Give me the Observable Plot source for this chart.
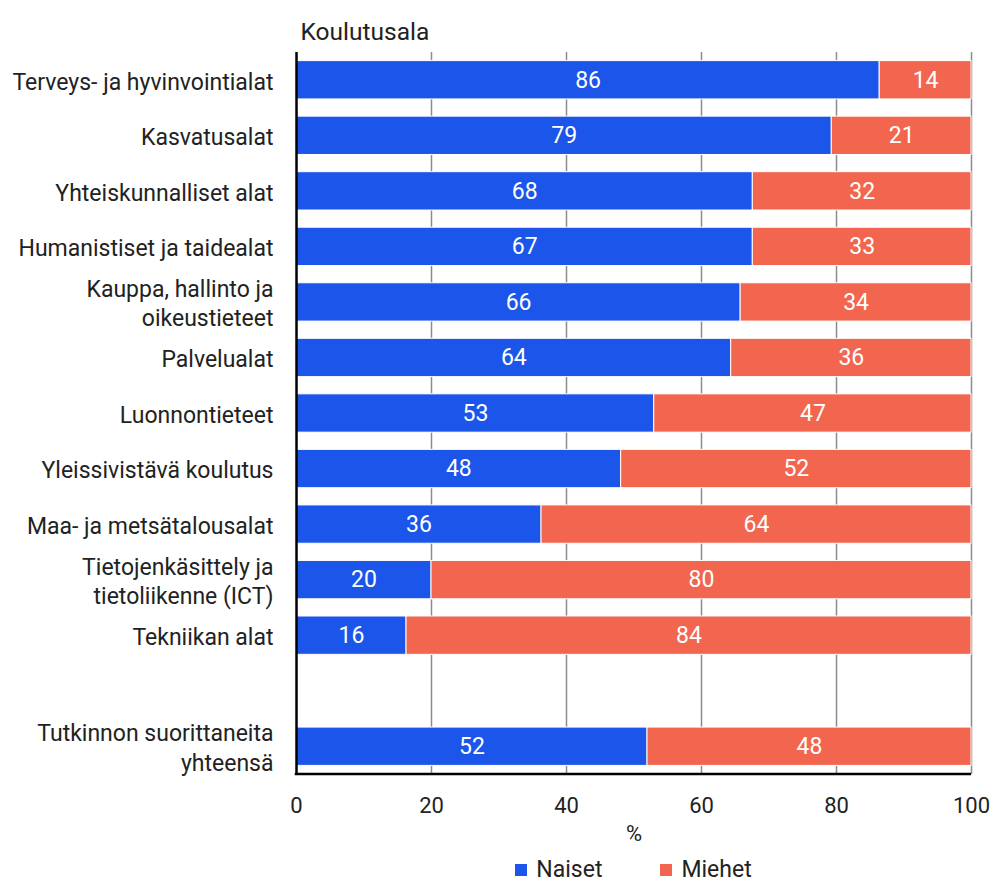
<!DOCTYPE html>
<html>
<head>
<meta charset="utf-8">
<script src="https://cdn.jsdelivr.net/npm/d3@7"></script>
<script src="https://cdn.jsdelivr.net/npm/@observablehq/plot@0.6"></script>
<style>
  body { margin: 0; background: #fff; font-family: Roboto, "Noto Sans", sans-serif; }
  #wrap { position: relative; width: 996px; height: 885px; overflow: hidden; }
  #legend { position: absolute; top: 858px; left: 296px; width: 675px; display: flex; justify-content: center; gap: 58px; font-size: 23px; line-height: 24px; color: #222; }
  #legend .item { display: flex; align-items: center; gap: 9px; }
  #legend .sw { width: 12px; height: 12px; display: inline-block; }
</style>
</head>
<body>
<div id="wrap"><div id="chart"></div><div id="legend"></div></div>
<script>
const categories = [
  "Terveys- ja hyvinvointialat",
  "Kasvatusalat",
  "Yhteiskunnalliset alat",
  "Humanistiset ja taidealat",
  "Kauppa, hallinto ja\noikeustieteet",
  "Palvelualat",
  "Luonnontieteet",
  "Yleissivistävä koulutus",
  "Maa- ja metsätalousalat",
  "Tietojenkäsittely ja\ntietoliikenne (ICT)",
  "Tekniikan alat",
  "",
  "Tutkinnon suorittaneita\nyhteensä"
];
const naiset = [86.4, 79.3, 67.6, 67.6, 65.8, 64.4, 53.0, 48.1, 36.3, 20.0, 16.3, null, 52.0];
const miehet = [13.6, 20.7, 32.4, 32.4, 34.2, 35.6, 47.0, 51.9, 63.7, 80.0, 83.7, null, 48.0];
const naisetLabels = ["86", "79", "68", "67", "66", "64", "53", "48", "36", "20", "16", null, "52"];
const miehetLabels = ["14", "21", "32", "33", "34", "36", "47", "52", "64", "80", "84", null, "48"];
const series = ["Naiset", "Miehet"];
const colors = ["#1b55e9", "#f2654e"];
const xTicks = [0, 20, 40, 60, 80, 100];
const gridTicks = [20, 40, 60, 80, 100];
const title = "Koulutusala";
const xLabel = "%";

const rows = [];
categories.forEach((c, i) => {
  if (naiset[i] != null) rows.push({cat: c, group: series[0], value: naiset[i], label: naisetLabels[i]});
  if (miehet[i] != null) rows.push({cat: c, group: series[1], value: miehet[i], label: miehetLabels[i]});
});

const chart = Plot.plot({
  width: 996,
  height: 850,
  marginLeft: 296,
  marginRight: 25,
  marginTop: 52,
  marginBottom: 76,
  style: {fontFamily: "Roboto, 'Noto Sans', sans-serif", color: "#222", background: "#fff"},
  x: {domain: [0, 100], axis: null},
  y: {domain: categories, paddingInner: 0.31, paddingOuter: 0.155, round: false, axis: null},
  color: {domain: series, range: colors},
  marks: [
    Plot.ruleX(gridTicks, {stroke: "#8c8c8c", strokeWidth: 1.5}),
    Plot.barX(rows, {y: "cat", x: "value", fill: "group", stroke: "#fff", strokeWidth: 1, order: series}),
    Plot.text(rows, Plot.stackX({y: "cat", x: "value", z: "group", text: "label", order: series, fill: "#fff", fontSize: 23})),
    Plot.text(categories, {x: 0, y: d => d, text: d => d, textAnchor: "end", dx: -23, fontSize: 23, fill: "#222", lineHeight: 1.27}),
    Plot.text(xTicks, {x: d => d, text: d => String(d), frameAnchor: "bottom", dy: 38, fontSize: 22, fill: "#222"}),
    Plot.text([xLabel], {frameAnchor: "bottom", dy: 66, fontSize: 22, fill: "#222"}),
    Plot.text([title], {frameAnchor: "top-left", dx: 4, dy: -30, textAnchor: "start", fontSize: 24.5, fill: "#222"}),
    Plot.ruleX([0], {stroke: "#000", strokeWidth: 2.5})
  ]
});
document.getElementById("chart").appendChild(chart);

// bottom axis line from the chart's own scales
const xs = chart.scale("x"), ys = chart.scale("y");
const svg = d3.select(chart);
const yBottom = ys.range[1];
svg.append("line")
  .attr("x1", xs.range[0] - 1.25).attr("x2", xs.range[1])
  .attr("y1", yBottom).attr("y2", yBottom)
  .attr("stroke", "#000").attr("stroke-width", 2.5);

// legend
const legend = d3.select("#legend");
series.forEach((s, i) => {
  const it = legend.append("div").attr("class", "item");
  it.append("span").attr("class", "sw").style("background", colors[i]);
  it.append("span").text(s);
});
</script>
</body>
</html>
